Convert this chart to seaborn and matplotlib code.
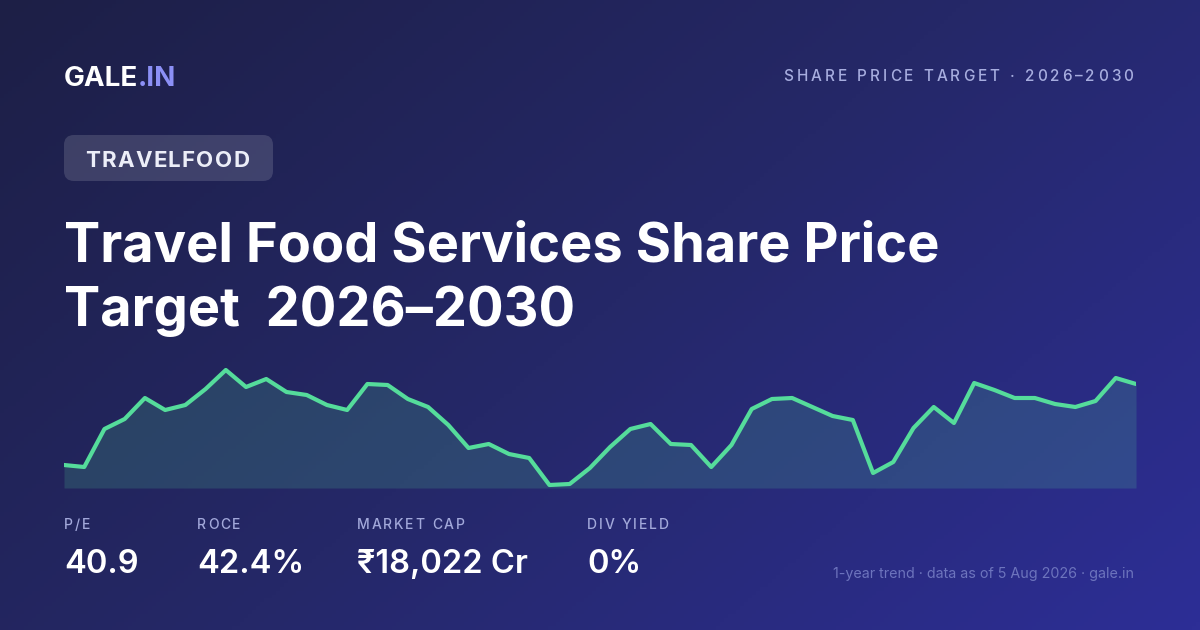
import numpy as np
import pandas as pd
import seaborn as sns
import matplotlib.pyplot as plt
from matplotlib.patches import FancyBboxPatch
from matplotlib.colors import LinearSegmentedColormap

# --- Data ---
trend = [23, 21, 59, 69, 90, 78, 83, 99, 118, 101, 109, 96, 93, 83, 78, 104, 103, 89,
         81, 63, 40, 44, 34, 30, 3, 4, 20, 41, 59, 64, 44, 43, 21, 43, 79, 89, 90, 81,
         72, 68, 15, 26, 60, 81, 65, 105, 98, 90, 90, 84, 81, 87, 110, 104]
stat_labels = ["P/E", "ROCE", "MARKET CAP", "DIV YIELD"]
stat_values = ["40.9", "42.4%", "₹18,022 Cr", "0%"]
ticker_name = "TRAVELFOOD"
title_lines = ["Travel Food Services Share Price", "Target  2026–2030"]
kicker = "SHARE PRICE TARGET · 2026–2030"
footer = "1-year trend · data as of 5 Aug 2026 · gale.in"

W, H = 1200, 630
FONT = ["Inter", "DejaVu Sans"]
LINE_GREEN = "#55dc9b"

sns.set_theme(style="white")
plt.rcParams["font.family"] = FONT

fig = plt.figure(figsize=(W / 100, H / 100), dpi=100)

# --- background gradient, pixel coordinate canvas ---
bg = fig.add_axes([0, 0, 1, 1])
bg.set_xlim(0, W)
bg.set_ylim(H, 0)
bg.axis("off")
xx, yy = np.meshgrid(np.linspace(0, 1, 300), np.linspace(0, 1, 160))
grad = 0.62 * xx + 0.38 * yy
cmap = LinearSegmentedColormap.from_list("bg", ["#1d1f46", "#252868", "#2d2e96"])
bg.imshow(grad, cmap=cmap, extent=[0, W, H, 0], aspect="auto", zorder=0)

renderer = fig.canvas.get_renderer()


def text_width(s, **kw):
    t = bg.text(0, 0, s, **kw)
    w = t.get_window_extent(renderer=renderer).width
    t.remove()
    return w


def tracked(x, y, s, spacing, ha="left", **kw):
    # letter-spaced text, drawn one glyph at a time
    base = text_width("xx", **kw)
    widths = [text_width("x" + ch + "x", **kw) - base for ch in s]
    total = sum(widths) + spacing * (len(s) - 1)
    if ha == "right":
        x -= total
    for ch, w in zip(s, widths):
        bg.text(x, y, ch, va="baseline", ha="left", **kw)
        x += w + spacing
    return total


# logo
logo_kw = dict(fontsize=20, fontweight="bold")
bg.text(64, 86, "GALE", color="white", va="baseline", **logo_kw)
bg.text(64 + text_width("GALE", **logo_kw), 86, ".IN", color="#8c90f6",
        va="baseline", **logo_kw)

# kicker top right
tracked(1133, 81, kicker, 3.0, ha="right", fontsize=11, fontweight="medium",
        color="#a7addf")

# ticker badge
badge = FancyBboxPatch((64, 135), 209, 46, boxstyle="round,pad=0,rounding_size=10",
                       facecolor=(1, 1, 1, 0.14), edgecolor="none", zorder=2)
bg.add_patch(badge)
tracked(85, 167, ticker_name, 1.3, fontsize=16, fontweight="bold", color="#eceef8")

# title
for i, line in enumerate(title_lines):
    bg.text(64, 262 + i * 64, line, color="white", fontsize=39, fontweight="bold",
            va="baseline")

# --- sparkline ---
df = pd.DataFrame({"day": np.arange(len(trend)), "price": trend})
ax = fig.add_axes([64 / W, 1 - 488 / H, (1136 - 64) / W, 120 / H])
ax.patch.set_alpha(0)
ax.fill_between(df["day"], df["price"], 0, color=LINE_GREEN, alpha=0.17, linewidth=0)
sns.lineplot(data=df, x="day", y="price", ax=ax, color=LINE_GREEN, linewidth=3.0)
ax.set_xlim(0, len(trend) - 1)
ax.set_ylim(0, 120)
ax.axis("off")

# --- stats ---
stat_x = [64, 197, 357, 587]
for x, lab, val in zip(stat_x, stat_labels, stat_values):
    tracked(x, 529, lab, 1.8, fontsize=10, fontweight="medium", color="#a2a8da")
    bg.text(x, 573, val, color="white", fontsize=23.5, fontweight="semibold",
            va="baseline")

bg.text(1134, 578, footer, color="#6d74bd", fontsize=10.3, ha="right", va="baseline")

fig.savefig("out.png", dpi=100)
